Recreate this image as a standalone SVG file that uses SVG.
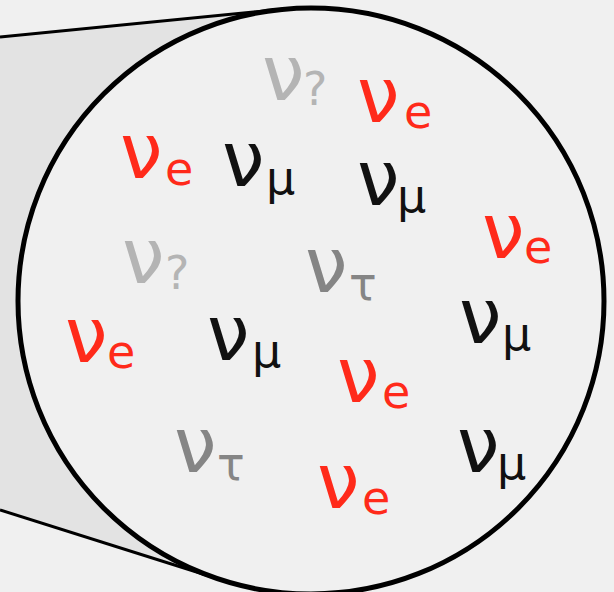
<svg xmlns="http://www.w3.org/2000/svg" width="614" height="592" viewBox="0 0 614 592">
<style>
.nu{font-family:"DejaVu Sans",sans-serif;font-size:76px}
.sub{font-family:"DejaVu Sans",sans-serif;font-size:46px}
.e{fill:#ff2a1a}
.m{fill:#111111}
.t{fill:#858585}
.q{fill:#b4b4b4}
</style>
<rect width="614" height="592" fill="#f0f0f0"/>
<path d="M0,37 L282,9.3 A293,293 0 0,0 222.8,580.2 L0,510 Z" fill="#e3e3e3" stroke="none"/>
<g id="connectors" stroke="#000" stroke-width="3" fill="none">
<line x1="0" y1="37" x2="282" y2="9.3"/>
<line x1="0" y1="510" x2="222.8" y2="580.2"/>
</g>
<circle id="bubble" cx="311" cy="301" r="293" fill="#f0f0f0" stroke="#000" stroke-width="5"/>
<g id="n1" class="q"><text class="nu" x="262" y="100">ν</text><text class="sub" x="303" y="105">?</text></g>
<g id="n2" class="e"><text class="nu" x="357" y="122">ν</text><text class="sub" x="404" y="128">e</text></g>
<g id="n3" class="e"><text class="nu" x="120" y="178">ν</text><text class="sub" x="165" y="185">e</text></g>
<g id="n4" class="m"><text class="nu" x="222" y="186">ν</text><text class="sub" x="266" y="194">μ</text></g>
<g id="n5" class="m"><text class="nu" x="357" y="205">ν</text><text class="sub" x="397" y="212">μ</text></g>
<g id="n6" class="e"><text class="nu" x="482" y="258">ν</text><text class="sub" x="524" y="263">e</text></g>
<g id="n7" class="q"><text class="nu" x="122" y="283">ν</text><text class="sub" x="165" y="289">?</text></g>
<g id="n8" class="t"><text class="nu" x="305" y="292">ν</text><text class="sub" x="349" y="300">τ</text></g>
<g id="n9" class="e"><text class="nu" x="65" y="362">ν</text><text class="sub" x="107" y="368">e</text></g>
<g id="n10" class="m"><text class="nu" x="207" y="360">ν</text><text class="sub" x="252" y="367">μ</text></g>
<g id="n11" class="m"><text class="nu" x="459" y="343">ν</text><text class="sub" x="502" y="350">μ</text></g>
<g id="n12" class="e"><text class="nu" x="337" y="402">ν</text><text class="sub" x="382" y="408">e</text></g>
<g id="n13" class="t"><text class="nu" x="174" y="472">ν</text><text class="sub" x="217" y="480">τ</text></g>
<g id="n14" class="e"><text class="nu" x="317" y="508">ν</text><text class="sub" x="362" y="514">e</text></g>
<g id="n15" class="m"><text class="nu" x="457" y="472">ν</text><text class="sub" x="497" y="479">μ</text></g>
</svg>
